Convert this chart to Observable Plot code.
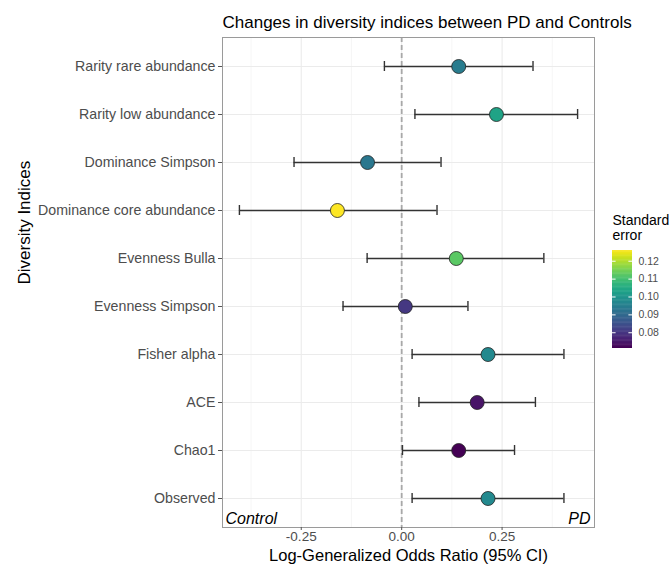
<!DOCTYPE html>
<html>
<head>
<meta charset="utf-8">
<script src="https://cdn.jsdelivr.net/npm/d3@7"></script>
<script src="https://cdn.jsdelivr.net/npm/@observablehq/plot@0.6"></script>
<style>
  html, body { margin: 0; padding: 0; background: white; }
  #wrap { position: relative; width: 670px; height: 565px; font-family: "Liberation Sans", Arial, sans-serif; }
  #legend { position: absolute; left: 600px; top: 200px; }
</style>
</head>
<body>
<div id="wrap"><div id="main"></div><div id="legend"></div></div>
<script>
const indices = ["Rarity rare abundance", "Rarity low abundance", "Dominance Simpson", "Dominance core abundance", "Evenness Bulla", "Evenness Simpson", "Fisher alpha", "ACE", "Chao1", "Observed"];
const estimate = [0.142, 0.236, -0.085, -0.160, 0.136, 0.009, 0.215, 0.188, 0.142, 0.215];
const lower = [-0.043, 0.033, -0.268, -0.404, -0.086, -0.146, 0.026, 0.043, 0.002, 0.026];
const upper = [0.327, 0.438, 0.098, 0.088, 0.354, 0.165, 0.404, 0.333, 0.281, 0.404];
const stdError = [0.094, 0.103, 0.093, 0.126, 0.112, 0.080, 0.097, 0.074, 0.0712, 0.097];
const xTicks = [-0.25, 0, 0.25];
const xMinorTicks = [-0.375, -0.125, 0.125, 0.375];
const legendTicks = [0.08, 0.09, 0.10, 0.11, 0.12];

const rows = indices.map((index, i) => ({index, estimate: estimate[i], lower: lower[i], upper: upper[i], se: stdError[i]}));

const lo = d3.min(lower), hi = d3.max(upper), pad = (hi - lo) * 0.05;
const xDomain = [lo - pad, hi + pad];
const seDomain = d3.extent(stdError);
const fmt = d => d.toFixed(2);
const font = "Liberation Sans, Arial, sans-serif";

const colorSpec = {type: "linear", scheme: "viridis", domain: seDomain};

const main = Plot.plot({
  width: 670, height: 565,
  marginLeft: 222, marginRight: 76, marginTop: 37, marginBottom: 38,
  style: {fontFamily: font, fontSize: "14.2px", color: "#4d4d4d", background: "white"},
  x: {domain: xDomain},
  y: {type: "band", domain: indices, paddingInner: 0.8, paddingOuter: 0.5},
  color: colorSpec,
  marks: [
    Plot.gridX(xMinorTicks, {stroke: "#f2f2f2", strokeOpacity: 1, strokeWidth: 0.7}),
    Plot.gridX(xTicks, {stroke: "#ebebeb", strokeOpacity: 1, strokeWidth: 1.1}),
    Plot.gridY(indices, {stroke: "#ebebeb", strokeOpacity: 1, strokeWidth: 1.1}),
    Plot.ruleX([0], {stroke: "#a8a8a8", strokeWidth: 1.8, strokeDasharray: "5,3"}),
    Plot.ruleY(rows, {y: "index", x1: "lower", x2: "upper", stroke: "#333333", strokeWidth: 1.4}),
    Plot.tickX(rows, {x: "lower", y: "index", stroke: "#333333", strokeWidth: 1.4}),
    Plot.tickX(rows, {x: "upper", y: "index", stroke: "#333333", strokeWidth: 1.4}),
    Plot.dot(rows, {x: "estimate", y: "index", fill: "se", r: 7, stroke: "#222222", strokeWidth: 0.8}),
    Plot.text(["Control"], {frameAnchor: "bottom-left", textAnchor: "start", lineAnchor: "middle", dx: 3, dy: -9, fontStyle: "italic", fontSize: 16, fill: "black"}),
    Plot.text(["PD"], {frameAnchor: "bottom-right", textAnchor: "end", lineAnchor: "middle", dx: -4, dy: -9, fontStyle: "italic", fontSize: 16, fill: "black"}),
    Plot.frame({stroke: "#9a9a9a", strokeWidth: 1}),
    Plot.axisX({ticks: xTicks, tickFormat: fmt, tickSize: 3, tickPadding: 1, label: null, stroke: "#555", fontSize: 13.5}),
    Plot.axisY({tickSize: 4, tickPadding: 3, label: null, stroke: "#555"}),
    Plot.text(["Log-Generalized Odds Ratio (95% CI)"], {frameAnchor: "bottom", lineAnchor: "middle", dy: 28.5, fontSize: 16.5, fill: "black"}),
    Plot.text(["Diversity Indices"], {frameAnchor: "left", lineAnchor: "middle", dx: -198, dy: 2, rotate: -90, fontSize: 17, fill: "black"}),
    Plot.text(["Changes in diversity indices between PD and Controls"], {frameAnchor: "top-left", textAnchor: "start", lineAnchor: "middle", dy: -15, fontSize: 17, fill: "black"})
  ]
});
document.getElementById("main").appendChild(main);

const n = 120;
const ramp = d3.range(n).map(i => seDomain[0] + (seDomain[1] - seDomain[0]) * i / n);
const rstep = (seDomain[1] - seDomain[0]) / n;

const legend = Plot.plot({
  width: 70, height: 148,
  marginLeft: 12, marginRight: 38, marginTop: 50, marginBottom: 0,
  style: {fontFamily: font, fontSize: "10.5px", color: "#4d4d4d", background: "transparent", overflow: "visible"},
  x: {domain: [0, 1], axis: null},
  y: {domain: seDomain},
  color: colorSpec,
  marks: [
    Plot.rect(ramp, {x1: 0, x2: 1, y1: d => d, y2: d => Math.min(d + rstep * 1.6, seDomain[1]), fill: d => d}),
    Plot.ruleY(legendTicks, {x1: 0, x2: 0.18, stroke: "white", strokeWidth: 1}),
    Plot.ruleY(legendTicks, {x1: 0.82, x2: 1, stroke: "white", strokeWidth: 1}),
    Plot.axisY({anchor: "right", ticks: legendTicks, tickFormat: fmt, tickSize: 0, tickPadding: 6, label: null}),
    Plot.text(["Standard"], {frameAnchor: "top-left", textAnchor: "start", lineAnchor: "middle", dy: -30, fontSize: 14, fill: "black"}),
    Plot.text(["error"], {frameAnchor: "top-left", textAnchor: "start", lineAnchor: "middle", dy: -15, fontSize: 14, fill: "black"})
  ]
});
document.getElementById("legend").appendChild(legend);
</script>
</body>
</html>
